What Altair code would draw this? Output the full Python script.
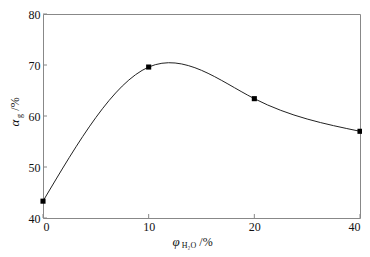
import altair as alt
import pandas as pd

# data
x_labels = ["0", "10", "20", "40"]
x_pos = [0, 1, 2, 3]
y_vals = [43.3, 69.6, 63.4, 57.0]
y_ticks = [40, 50, 60, 70, 80]

W, H = 317, 204
FONT = "Times New Roman, Liberation Serif, DejaVu Serif, serif"

df = pd.DataFrame({"x": x_pos, "y": y_vals, "label": x_labels})
yt = pd.DataFrame({"y": y_ticks})
xt = pd.DataFrame({"x": x_pos})

label_expr = "['0','10','20','40'][datum.value]"

xs = alt.Scale(domain=[0, 3], nice=False, zero=False)
ys = alt.Scale(domain=[40, 80], nice=False, zero=False)

x_axis = alt.Axis(values=x_pos, labelExpr=label_expr, ticks=False, domain=False,
                  grid=False, title=None, labelPadding=3)
y_axis = alt.Axis(values=y_ticks, ticks=False, domain=False, grid=False, title=None,
                  labelPadding=3)

line = alt.Chart(df).mark_line(interpolate="natural", color="#222", strokeWidth=1).encode(
    x=alt.X("x:Q", scale=xs, axis=x_axis),
    y=alt.Y("y:Q", scale=ys, axis=y_axis),
)
pts = alt.Chart(df).mark_point(shape="square", filled=True, size=26, color="#000", opacity=1).encode(
    x=alt.X("x:Q", scale=xs, axis=x_axis),
    y=alt.Y("y:Q", scale=ys, axis=y_axis),
)
ytick = alt.Chart(yt).mark_rule(color="#888", strokeWidth=1).encode(
    y=alt.Y("y:Q", scale=ys, axis=y_axis), x=alt.value(0), x2=alt.value(4)
)
xtick = alt.Chart(xt).mark_rule(color="#888", strokeWidth=1).encode(
    x=alt.X("x:Q", scale=xs, axis=x_axis), y=alt.value(H), y2=alt.value(H - 4)
)

def txt(s, x, y, size, italic=False, angle=0):
    kw = dict(text=s, font=FONT, fontSize=size, color="#111", align="center", baseline="middle")
    if italic:
        kw["fontStyle"] = "italic"
    if angle:
        kw["angle"] = angle
    return alt.Chart(alt.Data(values=[{}])).mark_text(**kw).encode(x=alt.value(x), y=alt.value(y))

titles = [
    txt("α", -28, 109, 13, italic=True, angle=270),
    txt("g", -23, 102, 8, italic=False, angle=270),
    txt("/%", -28, 90, 12, angle=270),
    txt("φ", 133, 228, 13, italic=True),
    txt("H₂O", 146, 232, 8),
    txt("/%", 163, 228, 12),
]

chart = alt.layer(line, ytick, xtick, pts, *titles).properties(
    width=W, height=H,
    autosize=alt.AutoSizeParams(type="none"),
    padding={"left": 35, "top": 6, "right": 2, "bottom": 34},
).configure_view(stroke="#888", strokeWidth=1).configure_axis(
    labelFont=FONT, labelFontSize=12, labelColor="#111"
).configure_text(font=FONT)

chart.save("out.html", embed_options={"renderer": "svg", "actions": False})
